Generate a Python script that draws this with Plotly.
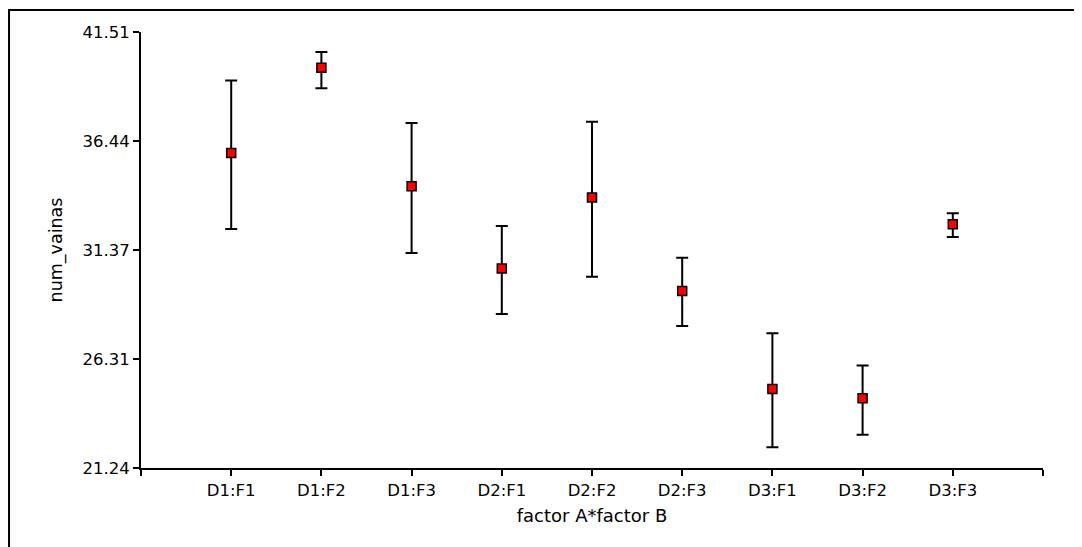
import plotly.graph_objects as go

categories = ["D1:F1", "D1:F2", "D1:F3", "D2:F1", "D2:F2", "D2:F3", "D3:F1", "D3:F2", "D3:F3"]
means = [35.88, 39.85, 34.34, 30.51, 33.81, 29.47, 24.91, 24.48, 32.57]
upper = [39.26, 40.58, 37.28, 32.49, 37.34, 31.02, 27.50, 26.01, 33.08]
lower = [32.35, 38.89, 31.24, 28.40, 30.13, 27.84, 22.20, 22.79, 31.98]
y_ticks = [21.24, 26.31, 31.37, 36.44, 41.51]
y_tick_labels = ["21.24", "26.31", "31.37", "36.44", "41.51"]

positions = list(range(1, len(categories) + 1))
err_plus = [u - m for u, m in zip(upper, means)]
err_minus = [m - l for m, l in zip(means, lower)]

font = "DejaVu Sans, Arial, sans-serif"

fig = go.Figure()
fig.add_trace(go.Scatter(
    x=positions, y=means, mode="markers",
    marker=dict(symbol="square", size=9, color="#ff0000",
                line=dict(color="black", width=1.5)),
    error_y=dict(type="data", symmetric=False, array=err_plus, arrayminus=err_minus,
                 color="black", thickness=2, width=6),
    showlegend=False,
))

fig.update_layout(
    width=1074, height=539,
    margin=dict(l=133, r=39, t=24, b=79),
    paper_bgcolor="white", plot_bgcolor="white",
    font=dict(family=font, size=17, color="black"),
    xaxis=dict(
        range=[0, 10], tickmode="array",
        tickvals=[0] + positions + [10],
        ticktext=[""] + categories + [""],
        showgrid=False, zeroline=False,
        showline=True, linecolor="black", linewidth=2,
        ticks="outside", ticklen=6, tickwidth=2, tickcolor="black",
        tickfont=dict(size=16.5),
        title=dict(text="factor A*factor B", font=dict(size=18), standoff=11),
    ),
    yaxis=dict(
        range=[21.24, 41.51], tickmode="array",
        tickvals=y_ticks, ticktext=y_tick_labels,
        showgrid=False, zeroline=False,
        showline=True, linecolor="black", linewidth=2,
        ticks="outside", ticklen=6, tickwidth=2, tickcolor="black",
        tickfont=dict(size=16.5),
        title=dict(text="num_vainas", font=dict(size=17.5), standoff=15),
    ),
    shapes=[
        dict(type="path", xref="paper", yref="paper",
             path="M -0.1463,-0.2 L -0.1463,1.0505 L 1.05,1.0505",
             line=dict(color="black", width=2)),
    ],
)

fig.write_html("out.html")
